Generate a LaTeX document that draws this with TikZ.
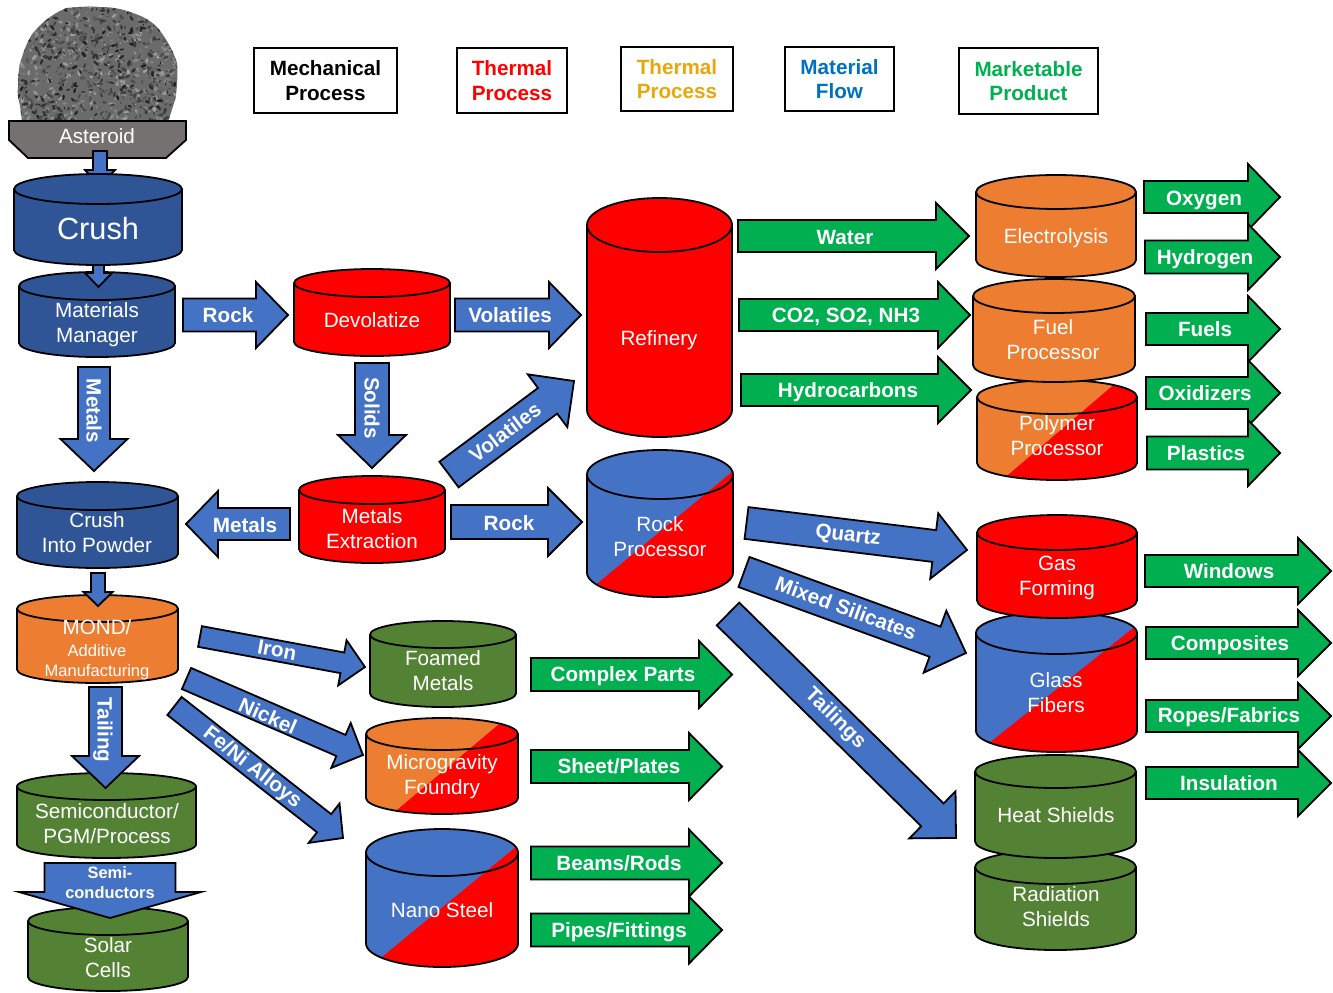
\documentclass[tikz,border=0pt]{standalone}
\usepackage{fontspec}
\setmainfont{Liberation Sans}
\usetikzlibrary{calc}
\definecolor{cylblue}{HTML}{2F5597}
\definecolor{arrblue}{HTML}{4472C4}
\definecolor{cylorange}{HTML}{ED7D31}
\definecolor{cylred}{HTML}{FF0000}
\definecolor{cylgreen}{HTML}{548235}
\definecolor{arrgreen}{HTML}{00B050}
\definecolor{hopper}{HTML}{767171}
\definecolor{legendgold}{HTML}{E6A80C}
\definecolor{legendblue}{HTML}{0070C0}
\tikzset{
  edge/.style={draw=black,line width=1.35pt,line join=miter},
  cyltxt/.style={text=white,align=center,inner sep=0pt,font=\fontsize{15.5}{18.7}\selectfont},
  lbl/.style={text=white,align=center,inner sep=0pt,font=\fontsize{15.5}{18.7}\selectfont\bfseries},
  smalllbl/.style={text=white,align=center,inner sep=0pt,font=\fontsize{12.3}{15}\selectfont\bfseries},
  legendbox/.style={draw=black,line width=0.8pt,fill=white,align=center,inner sep=0pt,font=\fontsize{15.5}{18.5}\selectfont\bfseries},
}
\newcommand{\cylSetup}[5]{%
  \pgfmathsetmacro\xa{#1}\pgfmathsetmacro\xb{#3}%
  \pgfmathsetmacro\xc{(#1+#3)/2}%
  \pgfmathsetmacro\rkx{0.5523*(#3-#1)/2}%
  \pgfmathsetmacro\xcl{\xc-\rkx}\pgfmathsetmacro\xcr{\xc+\rkx}%
  \pgfmathsetmacro\yt{#2+#5}\pgfmathsetmacro\yb{#4-#5}%
  \pgfmathsetmacro\ytt{#2}\pgfmathsetmacro\ybb{#4}%
  \pgfmathsetmacro\ytk{\yt-0.5523*#5}%
  \pgfmathsetmacro\ytb{\yt+0.5523*#5}%
  \pgfmathsetmacro\ytbb{\yt+#5}%
  \pgfmathsetmacro\ybk{\yb+0.5523*#5}%
}
\def\cylSil{(\xa,\yt) -- (\xa,\yb) .. controls (\xa,\ybk) and (\xcl,\ybb) .. (\xc,\ybb) .. controls (\xcr,\ybb) and (\xb,\ybk) .. (\xb,\yb) -- (\xb,\yt) .. controls (\xb,\ytk) and (\xcr,\ytt) .. (\xc,\ytt) .. controls (\xcl,\ytt) and (\xa,\ytk) .. (\xa,\yt) -- cycle}
\def\cylLip{(\xa,\yt) .. controls (\xa,\ytb) and (\xcl,\ytbb) .. (\xc,\ytbb) .. controls (\xcr,\ytbb) and (\xb,\ytb) .. (\xb,\yt)}
% x1, ytop, x2, ybottom, ry, fill
\newcommand{\myCyl}[6]{%
  \cylSetup{#1}{#2}{#3}{#4}{#5}%
  \path[fill=#6] \cylSil;
  \draw[edge] \cylSil;
  \draw[edge] \cylLip;
}
% x1, ytop, x2, ybottom, ry, colour A, colour B, split point 1, split point 2
\newcommand{\mySplitCyl}[9]{%
  \cylSetup{#1}{#2}{#3}{#4}{#5}%
  \path[fill=#6] \cylSil;
  \begin{scope}
    \clip \cylSil;
    \path[fill=#7] ($(#8)!-1!(#9)$) -- ($(#8)!2!(#9)$) -- ($($(#8)!2!(#9)$)+(0,800)$) -- ($($(#8)!-1!(#9)$)+(800,800)$) -- ($($(#8)!-1!(#9)$)+(800,0)$) -- cycle;
  \end{scope}
  \draw[edge] \cylSil;
  \draw[edge] \cylLip;
}
% name, x1, y1, x2, y2, shaft width, head width, head length, fill
\newcommand{\myArrow}[9]{%
  \coordinate (#1-a) at (#2,#3);
  \coordinate (#1-b) at (#4,#5);
  \pgfmathsetmacro\bL{veclen(#4-#2,#5-#3)}%
  \pgfmathsetmacro\bA{atan2(-(#5-#3),#4-#2)}%
  \pgfmathsetmacro\bN{\bL-#8}%
  \pgfmathsetmacro\bS{#6/2}%
  \pgfmathsetmacro\bH{#7/2}%
  \begin{scope}[shift={(#1-a)},rotate=\bA]
    \draw[edge,fill=#9] (0,-\bS) -- (\bN,-\bS) -- (\bN,-\bH) -- (\bL,0) -- (\bN,\bH) -- (\bN,\bS) -- (0,\bS) -- cycle;
  \end{scope}
}
\newcommand{\lgd}[7]{%
  \pgfmathsetmacro\lw{(#4-#2)*0.75}\pgfmathsetmacro\lh{(#5-#3)*0.75}%
  \node (#1) [legendbox,text=#6,minimum width=\lw pt,minimum height=\lh pt] at ({(#2+#4)/2},{(#3+#5)/2}) {#7};
}
\begin{document}
\begin{tikzpicture}[x=0.75pt,y=-0.75pt]
\useasboundingbox (0,0) rectangle (1333,992);
\path[fill=white] (0,0) rectangle (1333,992);

% asteroid
\def\rockpath{(67,8) .. controls (78,7) and (90,6) .. (100,7) .. controls (115,7) and (125,10) .. (133,13) .. controls (145,17) and (152,22) .. (157,27) .. controls (166,38) and (173,50) .. (177,63) .. controls (178,75) and (177,90) .. (175,100) -- (168,122) -- (22,122) -- (20,105) .. controls (18,98) and (17,92) .. (18,87) .. controls (18,75) and (19,65) .. (22,57) .. controls (25,48) and (28,40) .. (33,33) .. controls (42,22) and (55,12) .. (67,8) -- cycle}
\path[fill=black!58] \rockpath;
\begin{scope}
  \clip \rockpath;
  \pgfmathsetseed{4217}
  \foreach \i in {1,...,420}{
    \pgfmathsetmacro\rx{15+165*rnd}
    \pgfmathsetmacro\ry{5+118*rnd}
    \pgfmathsetmacro\ra{180*rnd}
    \pgfmathsetmacro\rs{1+2.2*rnd}
    \pgfmathsetmacro\rg{36+16*rnd}
    \path[fill=black!\rg!white,rotate around={\ra:(\rx,\ry)}] (\rx,\ry) ellipse [x radius=\rs,y radius=\rs*0.5];
  }
  \pgfmathsetseed{991}
  \foreach \i in {1,...,640}{
    \pgfmathsetmacro\rx{15+165*rnd}
    \pgfmathsetmacro\ry{5+118*rnd}
    \pgfmathsetmacro\ra{180*rnd}
    \pgfmathsetmacro\rs{1+2.4*rnd}
    \pgfmathsetmacro\rg{64+24*rnd}
    \path[fill=black!\rg!white,rotate around={\ra:(\rx,\ry)}] (\rx,\ry) ellipse [x radius=\rs,y radius=\rs*0.45];
  }
\end{scope}

% hopper
\draw[edge,fill=hopper] (9,121) -- (186,121) -- (186,140) -- (166,158) -- (28,158) -- (9,140) -- cycle;
\node (asteroid) [cyltxt] at (97,136) {Asteroid};

\myArrow{astcrush}{100}{151}{100}{186}{14}{30}{16}{arrblue}
\myCyl{19}{272}{175}{357}{14}{cylblue}
\myArrow{crushmm}{98.5}{265}{98.5}{287}{11}{27}{14}{arrblue}
\myCyl{14}{174}{182}{265}{15}{cylblue}
\node (crush) [cyltxt,font=\fontsize{23}{26}\selectfont] at (98,229) {Crush};
\node (mm) [cyltxt] at (97,325) {Materials\\Manager};

% legend
\lgd{lg1}{254}{48}{397}{113}{black}{Mechanical\\Process}
\lgd{lg2}{457}{48}{567}{113}{red}{Thermal\\Process}
\lgd{lg3}{621}{47}{733}{111}{legendgold}{Thermal\\Process}
\lgd{lg4}{785}{47}{894}{111}{legendblue}{Material\\Flow}
\lgd{lg5}{959}{48}{1098}{114}{arrgreen}{Marketable\\Product}

% top row
\myArrow{rock1}{183}{315}{288}{315}{33}{66}{32}{arrblue}
\node (rock1l) [lbl] at (228,315) {Rock};
\myCyl{294}{269}{450}{356}{14}{cylred}
\node (devol) [cyltxt] at (372,320) {Devolatize};
\myArrow{vol1}{455}{315}{581}{315}{33}{66}{32}{arrblue}
\node (vol1l) [lbl] at (510,315) {Volatiles};
\myCyl{587}{198}{732}{437}{27}{cylred}
\node (refinery) [cyltxt] at (659,340) {Refinery};

\myArrow{water}{738}{236}{969}{236}{32}{66}{33}{arrgreen}
\node (waterl) [lbl] at (845,237) {Water};
\myArrow{cos}{739}{315}{970}{315}{32}{66}{32}{arrgreen}
\node (cosl) [lbl] at (846,317) {CO2, SO2, NH3};
\myArrow{hydroc}{741}{390}{971}{390}{32}{66}{33}{arrgreen}
\node (hydrocl) [lbl] at (848,392) {Hydrocarbons};

\mySplitCyl{977}{380}{1137}{480}{17}{cylorange}{cylred}{1117,382}{1008,475}
\node (polymer) [cyltxt] at (1057,436) {Polymer\\Processor};
\myCyl{973}{279}{1135}{382}{17}{cylorange}
\node (fuelp) [cyltxt] at (1053,340) {Fuel\\Processor};
\myCyl{976}{175}{1136}{277}{17}{cylorange}
\node (electro) [cyltxt] at (1056,238) {Electrolysis};

\myArrow{oxy}{1144}{197}{1280}{197}{32}{66}{32}{arrgreen}
\node (oxyl) [lbl] at (1204,200) {Oxygen};
\myArrow{hyd}{1145}{257}{1280}{257}{33}{66}{32}{arrgreen}
\node (hydl) [lbl] at (1205,259) {Hydrogen};
\myArrow{fuels}{1146}{329}{1280}{329}{32}{66}{32}{arrgreen}
\node (fuelsl) [lbl] at (1205,329) {Fuels};
\myArrow{oxid}{1146}{393}{1280}{393}{32}{66}{32}{arrgreen}
\node (oxidl) [lbl] at (1205,393.5) {Oxidizers};
\myArrow{plast}{1147}{453}{1280}{453}{33}{66}{32}{arrgreen}
\node (plastl) [lbl] at (1206,453) {Plastics};

% second row
\myArrow{metals1}{94}{367}{94}{471}{32}{67}{32}{arrblue}
\node (metals1l) [lbl,rotate=-90] at (94,411) {Metals};
\myArrow{solids}{372}{363}{372}{468}{34}{68}{33}{arrblue}
\node (solidsl) [lbl,rotate=-90] at (372,408) {Solids};
\myCyl{299}{476}{445}{563}{14}{cylred}
\node (mext) [cyltxt] at (372,528.5) {Metals\\Extraction};
\myCyl{17}{482}{178}{568}{14}{cylblue}
\node (cip) [cyltxt] at (97,533) {Crush\\Into Powder};
\myArrow{metals2}{290}{524}{186}{524}{32}{66}{32}{arrblue}
\node (metals2l) [lbl] at (245,525) {Metals};
\myArrow{rock2}{451}{522}{582}{522}{34}{68}{34}{arrblue}
\node (rock2l) [lbl] at (509,523) {Rock};
\myArrow{vol2}{449}{474.5}{574}{381}{32}{66}{33}{arrblue}
\node (vol2l) [lbl,rotate=37] at (505,432) {Volatiles};
\mySplitCyl{587}{450}{733}{597}{24.5}{arrblue}{cylred}{732,472}{598,583}
\node (rockp) [cyltxt] at (660,537) {Rock\\Processor};

\myArrow{quartz}{746.5}{523}{967}{550}{32}{66}{33}{arrblue}
\node (quartzl) [lbl,rotate=-7] at (848,536) {Quartz};
\myArrow{mixed}{744}{572}{966}{653}{32}{66}{33}{arrblue}
\node (mixedl) [lbl,rotate=-20] at (846,608) {Mixed Silicates};
\myArrow{tail2}{728}{614}{956}{838}{32}{66}{33}{arrblue}
\node (tail2l) [lbl,rotate=-44.5] at (835,719) {Tailings};

\mySplitCyl{976}{612}{1137}{752}{21}{arrblue}{cylred}{1137,625}{993,740}
\node (glass) [cyltxt] at (1056,692.5) {Glass\\Fibers};
\myCyl{977}{515}{1137}{618}{17.5}{cylred}
\node (gas) [cyltxt] at (1057,578) {Gas\\Forming};
\myCyl{975}{850}{1136}{950}{17}{cylgreen}
\node (rad) [cyltxt] at (1056,907) {Radiation\\Shields};
\myCyl{975}{755}{1136}{858}{16.5}{cylgreen}
\node (heat) [cyltxt] at (1056,815) {Heat Shields};

\myArrow{win}{1145}{571}{1331}{571}{32}{66}{33}{arrgreen}
\node (winl) [lbl] at (1229,571) {Windows};
\myArrow{comp}{1146}{643}{1331}{643}{32}{66}{33}{arrgreen}
\node (compl) [lbl] at (1230,645) {Composites};
\myArrow{ropes}{1146}{716}{1331}{716}{32}{66}{33}{arrgreen}
\node (ropesl) [lbl] at (1229,717) {Ropes/Fabrics};
\myArrow{insul}{1146}{783}{1331}{783}{32}{66}{33}{arrgreen}
\node (insull) [lbl] at (1229,783) {Insulation};

% left column
\myCyl{17}{595}{178}{683}{13.5}{cylorange}
\myArrow{cipmond}{98}{573}{98}{606}{14}{29}{14}{arrblue}
\node (mond) [cyltxt] at (97,627) {MOND/};
\node (addit) [cyltxt,font=\fontsize{12.4}{15}\selectfont] at (97,662) {Additive\\Manufacturing};

\myCyl{17}{773}{196}{858}{13.5}{cylgreen}
\myArrow{tailing}{105.5}{687}{105.5}{788}{33}{67}{32}{arrblue}
\node (tailingl) [lbl,rotate=-90] at (103,730) {Tailing};
\node (semi) [cyltxt] at (107,824) {Semiconductor/\\PGM/Process};

\myCyl{28}{907}{188}{991}{14}{cylgreen}
\node (solar) [cyltxt] at (108,958) {Solar\\Cells};
\myArrow{semia}{110}{863}{110}{918}{131}{182}{26}{arrblue}
\node (semil) [smalllbl] at (110,882.5) {Semi-\\conductors};

% metal products
\myArrow{iron}{200}{636.5}{365}{667}{21}{46}{23}{arrblue}
\node (ironl) [lbl,rotate=-10.5] at (277,650) {Iron};
\myArrow{nickel}{186.5}{678.5}{363}{755}{23}{49}{24}{arrblue}
\node (nickell) [lbl,rotate=-23.4] at (268,716) {Nickel};
\myArrow{feni}{174.5}{706}{343}{838}{23}{50}{24}{arrblue}
\node (fenil) [lbl,rotate=-38] at (252,768) {Fe/Ni Alloys};

\myCyl{370}{621}{516}{707}{13.5}{cylgreen}
\node (foamed) [cyltxt] at (443,671) {Foamed\\Metals};
\mySplitCyl{366}{718}{518}{814}{16}{cylorange}{cylred}{498,725}{397,810}
\node (micro) [cyltxt] at (442,777) {Microgravity\\Foundry};
\mySplitCyl{366}{829}{518}{967}{23.5}{arrblue}{cylred}{517,846}{382,957}
\node (nano) [cyltxt] at (442,910) {Nano Steel};

\myArrow{cparts}{531}{674.5}{732}{674.5}{33}{67}{33}{arrgreen}
\node (cpartsl) [lbl] at (623,676) {Complex Parts};
\myArrow{sheet}{531}{766.5}{722}{766.5}{33}{67}{33}{arrgreen}
\node (sheetl) [lbl] at (619,766) {Sheet/Plates};
\myArrow{pipes}{531}{930}{722}{930}{33}{67}{33}{arrgreen}
\node (pipesl) [lbl] at (619,932) {Pipes/Fittings};
\myArrow{beams}{531}{863}{722}{863}{33}{67}{33}{arrgreen}
\node (beamsl) [lbl] at (619,863) {Beams/Rods};
\end{tikzpicture}
\end{document}
